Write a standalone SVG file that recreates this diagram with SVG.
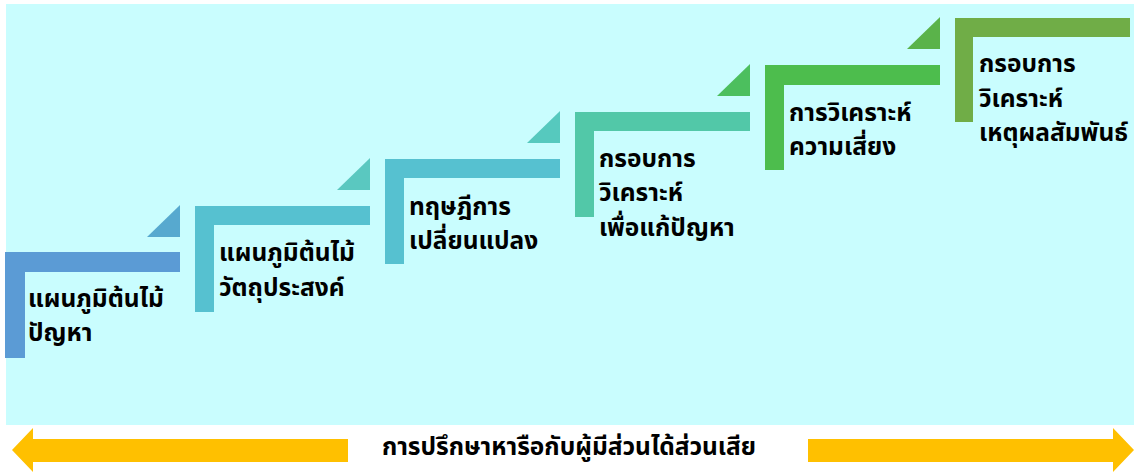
<svg xmlns="http://www.w3.org/2000/svg" width="1134" height="472" viewBox="0 0 1134 472">
<style>
text{font-family:"Noto Sans Thai","Noto Sans","Liberation Sans",sans-serif;font-weight:bold;font-size:24.5px;fill:#000}
.arr{fill:#FFC000}
</style>
<rect x="0" y="0" width="1134" height="472" fill="#FFFFFF"/>
<rect id="background" x="6" y="4" width="1128" height="421" fill="#C9FDFE"/>
<g id="step1">
<polygon points="147,237 180,237 180,205" fill="#57A9CF"/>
<path d="M5,252 H180 V272 H25 V358 H5 Z" fill="#5B9BD5"/>
<text x="28" y="307">แผนภูมิต้นไม้</text>
<text x="28" y="341">ปัญหา</text>
</g>
<g id="step2">
<polygon points="337,190 370,190 370,158" fill="#5AC8C0"/>
<path d="M195,206 H370 V225 H214 V312 H195 Z" fill="#56C1D0"/>
<text x="219" y="261">แผนภูมิต้นไม้</text>
<text x="219" y="296">วัตถุประสงค์</text>
</g>
<g id="step3">
<polygon points="527,143 560,143 560,111" fill="#56C9BE"/>
<path d="M385,159 H560 V178 H404 V264 H385 Z" fill="#56C1D0"/>
<text x="409" y="215">ทฤษฎีการ</text>
<text x="409" y="249">เปลี่ยนแปลง</text>
</g>
<g id="step4">
<polygon points="717,96 750,96 750,64" fill="#4CBF5E"/>
<path d="M575,112 H750 V131 H594 V217 H575 Z" fill="#52C8A8"/>
<text x="599" y="167">กรอบการ</text>
<text x="599" y="201">วิเคราะห์</text>
<text x="599" y="236">เพื่อแก้ปัญหา</text>
</g>
<g id="step5">
<polygon points="907,49 940,49 940,17" fill="#5AB34A"/>
<path d="M765,65 H940 V85 H784 V170 H765 Z" fill="#4DBD4D"/>
<text x="789" y="121">การวิเคราะห์</text>
<text x="789" y="155">ความเสี่ยง</text>
</g>
<g id="step6">
<path d="M955,18 H1130 V37 H973 V122 H955 Z" fill="#70AD47"/>
<text x="979" y="72">กรอบการ</text>
<text x="979" y="107">วิเคราะห์</text>
<text x="979" y="141">เหตุผลสัมพันธ์</text>
</g>
<g id="connectors">
<polygon class="arr" points="12,450 33,428 33,439 348,439 348,462 33,462 33,472"/>
<polygon class="arr" points="1134,450 1113,428 1113,439 808,439 808,462 1113,462 1113,472"/>
</g>
<g id="label">
<text x="569" y="455" text-anchor="middle">การปรึกษาหารือกับผู้มีส่วนได้ส่วนเสีย</text>
</g>
</svg>
